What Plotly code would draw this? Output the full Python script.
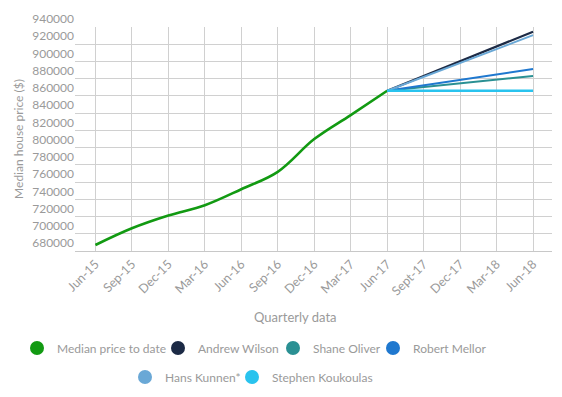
import plotly.graph_objects as go

# Data
quarters = ["Jun-15", "Sep-15", "Dec-15", "Mar-16", "Jun-16", "Sep-16", "Dec-16",
            "Mar-17", "Jun-17", "Sept-17", "Dec-17", "Mar-18", "Jun-18"]
median_quarters = ["Jun-15", "Sep-15", "Dec-15", "Mar-16", "Jun-16", "Sep-16", "Dec-16",
                   "Mar-17", "Jun-17"]
median_price = [687000, 706400, 721200, 733100, 751700, 771900, 809900, 837800, 866000]
forecast_quarters = ["Jun-17", "Jun-18"]
andrew_wilson = [866000, 934500]
shane_oliver = [866000, 883100]
robert_mellor = [866000, 891300]
hans_kunnen = [866000, 930500]
stephen_koukoulas = [866000, 866000]
y_ticks = list(range(680000, 940001, 20000))

font_family = "Lato, 'Open Sans', sans-serif"
gray = "#9a9a9a"

# The page body has an 8px margin, so the figure is sized to fit the window.
W, H = 554, 389

# name, x, y, colour, line width, shape, legend, legend entry width
series = [
    ("Median price to date", median_quarters, median_price, "#129a12", 2.6, "spline", "legend", 96),
    ("Andrew Wilson", forecast_quarters, andrew_wilson, "#1c2a45", 2.2, "linear", "legend", 70),
    ("Shane Oliver", forecast_quarters, shane_oliver, "#2a9093", 2.0, "linear", "legend", 55),
    ("Robert Mellor", forecast_quarters, robert_mellor, "#1f78cf", 2.0, "linear", "legend", 75),
    ("Hans Kunnen*", forecast_quarters, hans_kunnen, "#6aa8d6", 2.0, "linear", "legend2", 62),
    ("Stephen Koukoulas", forecast_quarters, stephen_koukoulas, "#29c3ee", 2.4, "linear", "legend2", 110),
]

fig = go.Figure()
for name, xs, ys, color, width, shape, leg, lw in series:
    fig.add_trace(go.Scatter(x=xs, y=ys, mode="lines", name=name,
                             line=dict(color=color, width=width, shape=shape),
                             showlegend=False, hoverinfo="x+y+name"))
for name, xs, ys, color, width, shape, leg, lw in series:
    fig.add_trace(go.Scatter(x=[None], y=[None], mode="markers", name=name,
                             marker=dict(color=color, size=14, symbol="circle"),
                             legend=leg, legendwidth=lw, showlegend=True))

fig.update_layout(
    width=W, height=H,
    margin=dict(l=67, r=10, t=19, b=146, autoexpand=False),
    paper_bgcolor="white", plot_bgcolor="white",
    font=dict(family=font_family, color=gray, size=12),
    legend=dict(orientation="h", xref="container", yref="container",
                x=9 / W, y=1 - 340 / H, xanchor="left", yanchor="middle",
                font=dict(size=12, color=gray), itemsizing="trace", tracegroupgap=0,
                entrywidthmode="pixels"),
    legend2=dict(orientation="h", xref="container", yref="container",
                 x=117 / W, y=1 - 369 / H, xanchor="left", yanchor="middle",
                 font=dict(size=12, color=gray), itemsizing="trace", tracegroupgap=0,
                 entrywidthmode="pixels"),
    annotations=[dict(text="Quarterly data", xref="paper", yref="paper",
                      x=0.4625, y=-0.293, xanchor="center", yanchor="middle",
                      showarrow=False, font=dict(size=13, color=gray))],
)
fig.update_xaxes(
    type="category", categoryorder="array", categoryarray=quarters,
    range=[-0.56, 12.52], tickangle=-45, showgrid=True, gridcolor="#d0d0d0",
    gridwidth=1, showline=True, linecolor="#c8c8c8", linewidth=1, zeroline=False,
    ticks="", tickfont=dict(size=12.5, color=gray), automargin=False,
)
fig.update_yaxes(
    range=[680000, 940000], tickvals=y_ticks, ticktext=[str(v) for v in y_ticks],
    showgrid=True, gridcolor="#d0d0d0", gridwidth=1, zeroline=False,
    ticks="", tickfont=dict(size=12, color=gray), ticklabelshift=-8, automargin=False,
    title=dict(text="Median house price ($)", font=dict(size=12, color=gray), standoff=6),
)

fig.write_html("out.html")
